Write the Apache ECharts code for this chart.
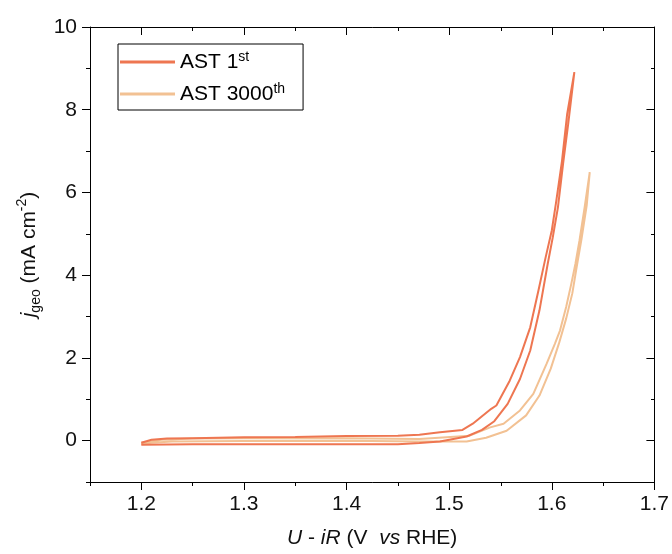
<!DOCTYPE html>
<html>
<head>
<meta charset="utf-8">
<script src="https://cdn.jsdelivr.net/npm/echarts@6/dist/echarts.min.js"></script>
<style>
html,body{margin:0;padding:0;background:#fff;}
#chart{width:672px;height:554px;}
</style>
</head>
<body>
<div id="chart"></div>
<script>
// ---- data ----
var seriesNames = ['AST 1st', 'AST 3000th'];
// AST 1st : one closed CV loop (forward scan, then reverse scan)
var ast1X = [1.200, 1.250, 1.300, 1.350, 1.400, 1.450, 1.471, 1.491, 1.517, 1.532, 1.544, 1.557, 1.569, 1.579, 1.588, 1.596, 1.601, 1.606, 1.611, 1.616, 1.622,
             1.615, 1.610, 1.604, 1.600, 1.594, 1.587, 1.579, 1.569, 1.559, 1.546, 1.541, 1.523, 1.513, 1.491, 1.471, 1.450, 1.400, 1.350, 1.300, 1.250, 1.225, 1.210, 1.200];
var ast1Y = [-0.10, -0.09, -0.09, -0.09, -0.09, -0.09, -0.06, -0.02, 0.10, 0.26, 0.47, 0.89, 1.49, 2.18, 3.15, 4.27, 4.92, 5.64, 6.69, 7.66, 8.91,
             7.90, 6.77, 5.73, 5.08, 4.43, 3.63, 2.74, 2.02, 1.45, 0.85, 0.77, 0.41, 0.26, 0.20, 0.14, 0.12, 0.11, 0.09, 0.08, 0.06, 0.05, 0.02, -0.05];
// AST 3000th : one closed CV loop
var ast3000X = [1.200, 1.210, 1.230, 1.300, 1.400, 1.471, 1.517, 1.536, 1.556, 1.575, 1.588, 1.599, 1.607, 1.614, 1.620, 1.624, 1.629, 1.634, 1.637,
                1.632, 1.627, 1.623, 1.619, 1.614, 1.608, 1.603, 1.595, 1.582, 1.569, 1.553, 1.540, 1.520, 1.471, 1.400, 1.300, 1.250, 1.220, 1.200];
var ast3000Y = [-0.08, -0.05, -0.02, -0.01, 0.00, -0.02, -0.02, 0.07, 0.24, 0.61, 1.09, 1.74, 2.35, 2.95, 3.56, 4.16, 4.88, 5.68, 6.49,
                5.64, 4.84, 4.27, 3.79, 3.23, 2.66, 2.34, 1.86, 1.13, 0.73, 0.41, 0.32, 0.12, 0.04, 0.06, 0.06, 0.05, 0.02, -0.05];
var seriesColors = ['#ee7651', '#f2c193'];

var xMajorTicks = [1.2, 1.3, 1.4, 1.5, 1.6, 1.7];
var xMinorTicks = [1.15, 1.25, 1.35, 1.45, 1.55, 1.65];
var yMajorTicks = [0, 2, 4, 6, 8, 10];
var yMinorTicks = [-1, 1, 3, 5, 7, 9];
var xRange = [1.15, 1.7];
var yRange = [-1, 10];

function zip(xs, ys) { return xs.map(function (x, i) { return [x, ys[i]]; }); }

var FONT = '"Liberation Sans", Arial, sans-serif';
var FS = 21;
var gridRect = { left: 90, right: 17, top: 27, bottom: 72 };

function xAx(gridIndex, position, ticks, len, inside, showLine, labels, extra) {
  var o = {
    type: 'value', gridIndex: gridIndex, position: position,
    min: xRange[0], max: xRange[1],
    axisLine: { show: showLine, onZero: false, lineStyle: { color: '#000', width: 1 } },
    axisTick: { show: true, inside: inside, length: len, customValues: ticks, lineStyle: { color: '#000', width: 1 } },
    axisLabel: labels ? { show: true, customValues: ticks, fontSize: FS, color: '#111', fontFamily: FONT, margin: 12,
      formatter: function (v) { return v.toFixed(1); } } : { show: false },
    splitLine: { show: false }
  };
  return Object.assign(o, extra || {});
}
function yAx(gridIndex, position, ticks, len, inside, showLine, labels, extra) {
  var o = {
    type: 'value', gridIndex: gridIndex, position: position,
    min: yRange[0], max: yRange[1],
    axisLine: { show: showLine, onZero: false, lineStyle: { color: '#000', width: 1 } },
    axisTick: { show: true, inside: inside, length: len, customValues: ticks, lineStyle: { color: '#000', width: 1 } },
    axisLabel: labels ? { show: true, customValues: ticks, fontSize: FS, color: '#111', fontFamily: FONT, margin: 13 } : { show: false },
    splitLine: { show: false }
  };
  return Object.assign(o, extra || {});
}

var nameBase = { fontSize: FS, color: '#111', fontFamily: FONT };

var option = {
  animation: false,
  backgroundColor: '#fff',
  grid: [
    Object.assign({ containLabel: false }, gridRect),
    Object.assign({ containLabel: false }, gridRect)
  ],
  legend: {
    data: seriesNames,
    orient: 'vertical',
    left: 118, top: 44,
    padding: [6, 18, 4, 2],
    itemGap: 8,
    itemWidth: 55, itemHeight: 3,
    icon: 'rect',
    borderColor: '#000', borderWidth: 1, borderRadius: 0,
    formatter: function (n) {
      var m = n.match(/^(AST \d+)(\D+)$/);
      return m[1] + '{sup|' + m[2] + '}';
    },
    textStyle: {
      fontSize: FS, color: '#000', fontFamily: FONT, lineHeight: 24,
      rich: { sup: { fontSize: 14, fontFamily: FONT, color: '#000', verticalAlign: 'top', lineHeight: 24 } }
    }
  },
  xAxis: [
    xAx(0, 'bottom', xMajorTicks, 8, false, true, true, {
      name: '{i|U} - {i|iR} (V  {i|vs} RHE)', nameLocation: 'middle', nameGap: 46,
      nameTextStyle: Object.assign({}, nameBase, { rich: { i: Object.assign({ fontStyle: 'italic' }, nameBase) } })
    }),
    xAx(0, 'top', xMajorTicks, 8, true, true, false),
    xAx(1, 'bottom', xMinorTicks, 4, false, false, false),
    xAx(1, 'top', xMinorTicks, 4, true, false, false)
  ],
  yAxis: [
    yAx(0, 'left', yMajorTicks, 8, false, true, true, {
      name: '{i|j}{sub|geo} (mA cm{sup|-2})', nameLocation: 'middle', nameGap: 46,
      nameTextStyle: Object.assign({}, nameBase, { lineHeight: 28, rich: {
        i: Object.assign({ fontStyle: 'italic', lineHeight: 28 }, nameBase),
        sub: Object.assign({}, nameBase, { fontSize: 14, verticalAlign: 'bottom', lineHeight: 28 }),
        sup: Object.assign({}, nameBase, { fontSize: 14, verticalAlign: 'top', lineHeight: 28 })
      } })
    }),
    yAx(0, 'right', yMajorTicks, 8, true, true, false),
    yAx(1, 'left', yMinorTicks, 4, false, false, false),
    yAx(1, 'right', yMinorTicks, 4, true, false, false)
  ],
  series: [
    { name: seriesNames[0], type: 'line', xAxisIndex: 0, yAxisIndex: 0, data: zip(ast1X, ast1Y),
      symbol: 'none', lineStyle: { color: seriesColors[0], width: 2 }, itemStyle: { color: seriesColors[0] }, z: 3 },
    { name: seriesNames[1], type: 'line', xAxisIndex: 0, yAxisIndex: 0, data: zip(ast3000X, ast3000Y),
      symbol: 'none', lineStyle: { color: seriesColors[1], width: 2 }, itemStyle: { color: seriesColors[1] }, z: 2 }
  ]
};

var chart = echarts.init(document.getElementById('chart'), null, { renderer: 'canvas' });
chart.setOption(option);
</script>
</body>
</html>
